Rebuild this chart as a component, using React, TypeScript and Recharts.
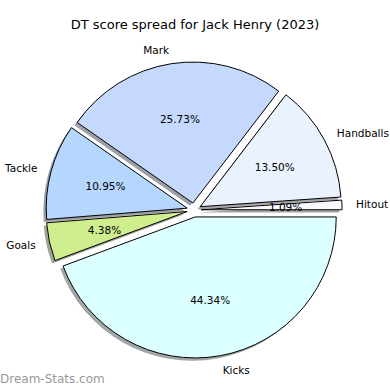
import React from "react";
import { PieChart, Pie, Cell, Sector } from "recharts";

const categories = ["Hitout", "Handballs", "Mark", "Tackle", "Goals", "Kicks"];
const shares = [1.09, 13.5, 25.73, 10.95, 4.38, 44.34];
const colors = ["#f8f8ff", "#ebf2ff", "#c5d9ff", "#b5d6ff", "#d1ee8f", "#dcffff"];

const data = categories.map((name, i) => ({ name, value: shares[i] }));

const EXPLODE = 0.05;
const RAD = Math.PI / 180;
const FONT = "DejaVu Sans, sans-serif";

function darken(hex: string) {
  const n = parseInt(hex.slice(1), 16);
  const r = Math.round(((n >> 16) & 255) * 0.3);
  const g = Math.round(((n >> 8) & 255) * 0.3);
  const b = Math.round((n & 255) * 0.3);
  return `rgb(${r},${g},${b})`;
}

function ExplodedSector(props: any) {
  const { cx, cy, outerRadius, startAngle, endAngle, midAngle, fill } = props;
  const dx = EXPLODE * outerRadius * Math.cos(-midAngle * RAD);
  const dy = EXPLODE * outerRadius * Math.sin(-midAngle * RAD);
  const sh = 0.02 * outerRadius;
  return (
    <g>
      <Sector
        cx={cx + dx - sh}
        cy={cy + dy + sh}
        innerRadius={0}
        outerRadius={outerRadius}
        startAngle={startAngle}
        endAngle={endAngle}
        fill={darken(fill)}
        fillOpacity={0.5}
        stroke="none"
      />
      <Sector
        cx={cx + dx}
        cy={cy + dy}
        innerRadius={0}
        outerRadius={outerRadius}
        startAngle={startAngle}
        endAngle={endAngle}
        fill={fill}
        stroke="#000"
        strokeWidth={1}
      />
    </g>
  );
}

function renderLabel(props: any) {
  const { cx, cy, midAngle, outerRadius, name, value } = props;
  const c = Math.cos(-midAngle * RAD);
  const s = Math.sin(-midAngle * RAD);
  const ox = cx + EXPLODE * outerRadius * c;
  const oy = cy + EXPLODE * outerRadius * s;
  const lx = ox + 1.1 * outerRadius * c;
  const ly = oy + 1.1 * outerRadius * s;
  const px = ox + 0.6 * outerRadius * c;
  const py = oy + 0.6 * outerRadius * s;
  return (
    <g>
      <text
        x={lx}
        y={ly}
        textAnchor={c >= 0 ? "start" : "end"}
        dominantBaseline="central"
        fontFamily={FONT}
        fontSize={10.5}
        fill="#000"
      >
        {name}
      </text>
      <text
        x={px}
        y={py}
        textAnchor="middle"
        dominantBaseline="central"
        fontFamily={FONT}
        fontSize={10.5}
        fill="#000"
      >
        {value.toFixed(2)}%
      </text>
    </g>
  );
}

export default function App() {
  return (
    <div style={{ position: "absolute", left: 0, top: 0, width: 390, height: 390, background: "#fff" }}>
      <div
        style={{
          position: "absolute",
          left: 0,
          width: 390,
          top: 17,
          textAlign: "center",
          fontFamily: FONT,
          fontSize: 13,
          color: "#000",
        }}
      >
        DT score spread for Jack Henry (2023)
      </div>
      <PieChart width={390} height={390} margin={{ top: 0, right: 0, bottom: 0, left: 0 }}>
        <Pie
          data={data}
          dataKey="value"
          nameKey="name"
          cx={194}
          cy={210}
          outerRadius={141}
          startAngle={0}
          endAngle={360}
          shape={ExplodedSector}
          label={renderLabel}
          labelLine={false}
          isAnimationActive={false}
        >
          {data.map((d, i) => (
            <Cell key={d.name} fill={colors[i]} />
          ))}
        </Pie>
      </PieChart>
      <div
        style={{
          position: "absolute",
          left: 0,
          top: 372,
          fontFamily: FONT,
          fontSize: 12,
          color: "#999",
        }}
      >
        Dream-Stats.com
      </div>
    </div>
  );
}
